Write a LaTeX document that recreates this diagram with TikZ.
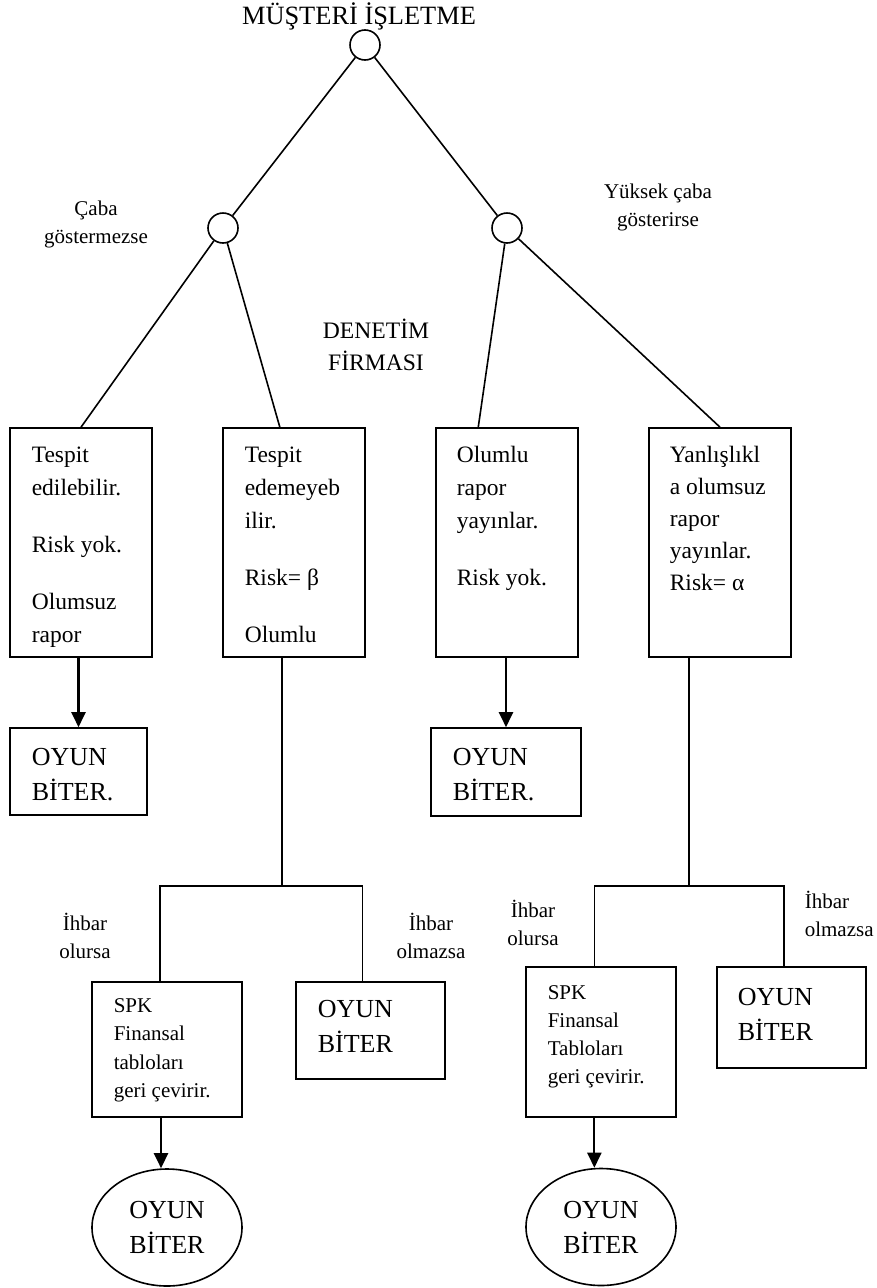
\documentclass[tikz,border=0pt]{standalone}
\usepackage{fontspec}
\setmainfont{Liberation Serif}
\usetikzlibrary{arrows.meta,positioning,shapes.geometric}

\begin{document}
\begin{tikzpicture}[x=1pt, y=-1pt, line width=1.6pt,
  kok/.style={circle, draw, minimum size=30pt, inner sep=0pt},
  kutu/.style={draw, rectangle, inner sep=0pt},
  bitis/.style={draw, ellipse, inner sep=0pt, minimum width=150pt, minimum height=117pt,
    align=center, font=\fontsize{26}{35}\selectfont},
  yazi/.style={anchor=base west, align=left, inner sep=0pt, font=\fontsize{23.5}{33}\selectfont},
  kucukyazi/.style={anchor=base west, align=left, inner sep=0pt, font=\fontsize{21}{28.5}\selectfont},
  sonyazi/.style={anchor=base west, align=left, inner sep=0pt, font=\fontsize{26}{35}\selectfont},
  etiket/.style={anchor=base, align=center, inner sep=0pt, font=\fontsize{21}{28.5}\selectfont},
  ok/.style={line width=2.2pt, -{Triangle[width=14pt,length=15pt]}}]
  \useasboundingbox (0,0) rectangle (877,1288);

  % Nodes (base = last line of the text)
  \node[anchor=base, inner sep=0pt, font=\fontsize{26.4}{30}\selectfont] (baslik) at (359,24) {MÜŞTERİ İŞLETME};
  \node[kok] (K0) at (365,45) {};
  \node[kok] (K1) at (223,228) {};
  \node[kok] (K2) at (507,228) {};

  \node[etiket] (caba1) at (96,243.5) {Çaba\\göstermezse};
  \node[etiket] (caba2) at (658,226.5) {Yüksek çaba\\gösterirse};
  \node[anchor=base, align=center, inner sep=0pt, font=\fontsize{23.6}{32}\selectfont] (denetim) at (376,370) {DENETİM\\FİRMASI};

  % Boxes
  \node[kutu, minimum width=142pt, minimum height=229pt] (B1) at (81,542.5) {};
  \node[kutu, minimum width=142pt, minimum height=229pt] (B2) at (294,542.5) {};
  \node[kutu, minimum width=142pt, minimum height=229pt] (B3) at (507,542.5) {};
  \node[kutu, minimum width=142pt, minimum height=229pt] (B4) at (720,542.5) {};

  \node[yazi] (T1) at (31,642) {Tespit\\edilebilir.\\[24pt]Risk yok.\\[24pt]Olumsuz\\rapor};
  \node[yazi] (T2) at (244,642) {Tespit\\edemeyeb\\ilir.\\[24pt]Risk= β\\[24pt]Olumlu};
  \node[yazi] (T3) at (456,585) {Olumlu\\rapor\\yayınlar.\\[24pt]Risk yok.};
  \node[yazi, font=\fontsize{23.5}{32}\selectfont] (T4) at (669,590) {Yanlışlıkl\\a olumsuz\\rapor\\yayınlar.\\Risk= α};

  \node[kutu, minimum width=137pt, minimum height=87pt] (O1) at (78.5,771.5) {};
  \node[kutu, minimum width=150pt, minimum height=88pt] (O3) at (506,772) {};
  \node[sonyazi] (OT1) at (31,800) {OYUN\\BİTER.};
  \node[sonyazi] (OT3) at (452,800) {OYUN\\BİTER.};

  % Lower part
  \coordinate (J1) at (B2.264 |- 0,886);
  \coordinate (J2) at (B4.255 |- 0,886);
  \node[etiket] (ihbar1) at (85,958.5) {İhbar\\olursa};
  \node[etiket] (ihbar2) at (431,958.5) {İhbar\\olmazsa};
  \node[etiket] (ihbar3) at (533,945.5) {İhbar\\olursa};
  \node[etiket, anchor=base west, align=left] (ihbar4) at (804,936.5) {İhbar\\olmazsa};

  \node[kutu, minimum width=150pt, minimum height=135pt] (S1) at (167,1049.5) {};
  \node[kutu, minimum width=149pt, minimum height=97pt] (O2) at (370.5,1030.5) {};
  \node[kutu, minimum width=150pt, minimum height=150pt] (S2) at (601,1042) {};
  \node[kutu, minimum width=149pt, minimum height=101pt] (O4) at (791.5,1017.5) {};

  \node[kucukyazi] (ST1) at (113,1097.5) {SPK\\Finansal\\tabloları\\geri çevirir.};
  \node[kucukyazi, font=\fontsize{21}{28}\selectfont] (ST2) at (547,1083) {SPK\\Finansal\\Tabloları\\geri çevirir.};
  \node[sonyazi] (OT2) at (317,1052) {OYUN\\BİTER};
  \node[sonyazi] (OT4) at (737,1040) {OYUN\\BİTER};

  \node[bitis] (E1) at (167,1227.5) {OYUN\\BİTER};
  \node[bitis] (E2) at (601,1227) {OYUN\\BİTER};

  % Paths
  \draw (K0) -- (K1);
  \draw (K0) -- (K2);
  \draw (K1) -- (B1.north);
  \draw (K1) -- (B2.97);
  \draw (K2) -- (B3.104);
  \draw (K2) -- (B4.north);

  \draw[ok] (B1.south -| O1.north) -- (O1.north);
  \draw[ok] (B3.south -| O3.north) -- (O3.north);

  \draw (B2.264) -- (J1);
  \draw (S1.96) |- (J1) -| (O2.99);
  \draw (B4.255) -- (J2);
  \draw (S2.95) |- (J2) -| (O4.98);

  \draw[ok] (S1.265) -- (S1.265 |- E1.north);
  \draw[ok] (S2.265) -- (S2.265 |- E2.north);
\end{tikzpicture}
\end{document}
